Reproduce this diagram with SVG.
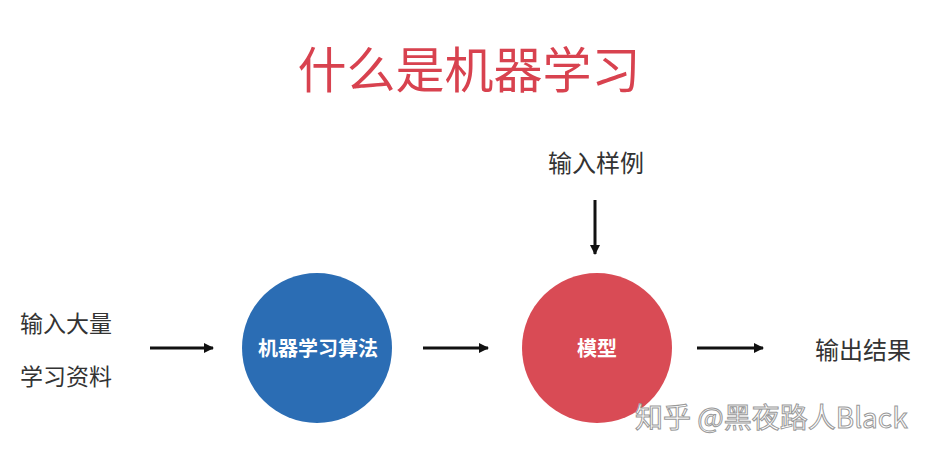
<svg xmlns="http://www.w3.org/2000/svg" width="928" height="457" viewBox="0 0 928 457">
<defs>
<marker id="ah" markerWidth="10" markerHeight="10" refX="9" refY="5" orient="auto" markerUnits="userSpaceOnUse"><path d="M0,0 L10,5 L0,10 z" fill="#111"/></marker>
<style>
.t{font-family:"Noto Sans CJK SC","Noto Sans",sans-serif;}
.lbl{font-size:24px;fill:#333;}
.in{font-size:20px;fill:#fff;font-weight:bold;}
.c{stroke:#111;stroke-width:3;fill:none;marker-end:url(#ah);}
</style>
</defs>
<rect width="928" height="457" fill="#fff"/>
<text class="t" x="469" y="88" text-anchor="middle" font-size="49" fill="#d8424f">什么是机器学习</text>
<g id="input-data"><text class="t lbl" x="20" y="332" font-size="23" style="font-size:23px">输入大量</text><text class="t lbl" x="20" y="385" style="font-size:23px">学习资料</text></g>
<g id="algorithm"><circle cx="317" cy="348" r="75" fill="#2b6db4"/><text class="t in" x="318" y="356" text-anchor="middle">机器学习算法</text></g>
<g id="model"><circle cx="597" cy="348" r="75" fill="#d94b55"/><text class="t in" x="597" y="356" text-anchor="middle">模型</text></g>
<g id="samples"><text class="t lbl" x="596" y="172" text-anchor="middle">输入样例</text></g>
<g id="output"><text class="t lbl" x="815" y="359">输出结果</text></g>
<g id="connectors">
<line class="c" x1="150" y1="348" x2="213" y2="348"/>
<line class="c" x1="423" y1="348" x2="488" y2="348"/>
<line class="c" x1="697" y1="348" x2="763" y2="348"/>
<line class="c" x1="595" y1="200" x2="595" y2="254"/>
</g>
<text class="t" x="635" y="428" font-size="28" fill="#fff" stroke="#999" stroke-width="1">知乎 @黑夜路人Black</text>
</svg>
